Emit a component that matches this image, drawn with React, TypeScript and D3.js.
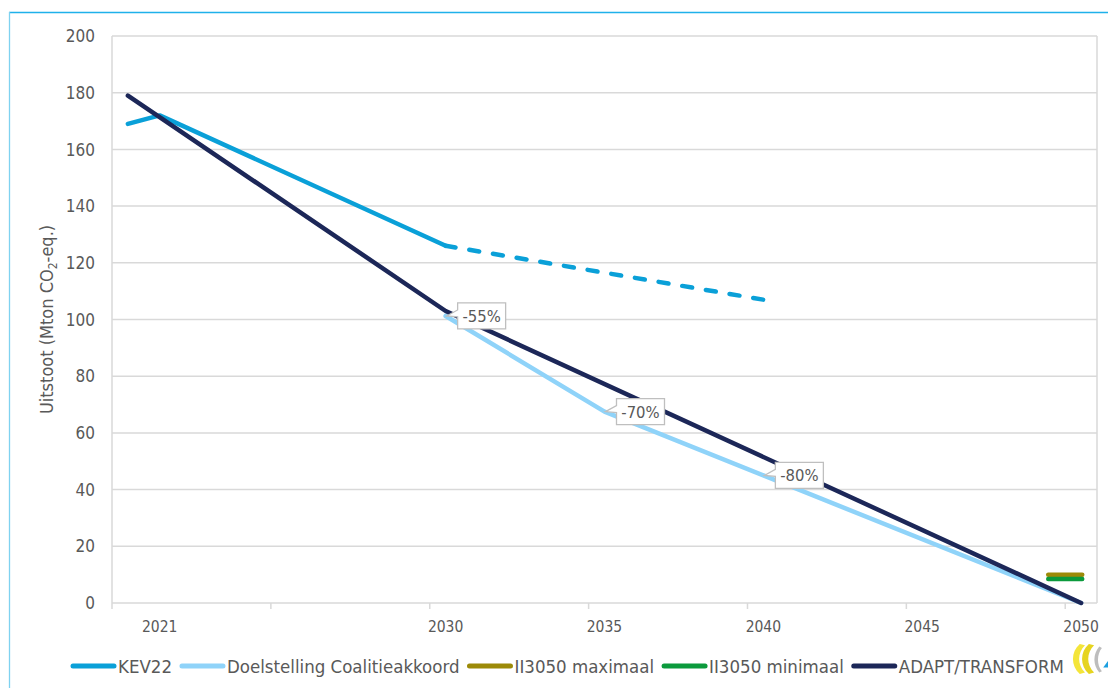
import { useEffect, useRef } from "react";
import * as d3 from "d3";

// categories on the x axis (one band per year)
const years = [
  2020, 2021, 2022, 2023, 2024, 2025, 2026, 2027, 2028, 2029, 2030, 2031, 2032,
  2033, 2034, 2035, 2036, 2037, 2038, 2039, 2040, 2041, 2042, 2043, 2044, 2045,
  2046, 2047, 2048, 2049, 2050,
];
const tickLabelYears = [2021, 2030, 2035, 2040, 2045, 2050];
const tickMarkYears = [2020, 2025, 2030, 2035, 2040, 2045, 2050];
const yTicks = [0, 20, 40, 60, 80, 100, 120, 140, 160, 180, 200];

// series (Mton CO2-eq.)
const kev22Years = [2020, 2021, 2030];
const kev22Values = [169, 172, 126];
const kev22ProjYears = [2030, 2040];
const kev22ProjValues = [126, 107];
const doelYears = [2030, 2035, 2040, 2050];
const doelValues = [101.25, 67.5, 45, 0];
const doelLabels = ["-55%", "-70%", "-80%", ""];
const adaptYears = [2020, 2030, 2050];
const adaptValues = [179, 103, 0];
const ii3050Year = 2050;
const ii3050MaxValue = 10;
const ii3050MinValue = 8.5;

const legendNames = [
  "KEV22",
  "Doelstelling Coalitieakkoord",
  "II3050 maximaal",
  "II3050 minimaal",
  "ADAPT/TRANSFORM",
];
const legendColors = ["#0aa0d8", "#8fd3f9", "#9c8a08", "#0b9a3c", "#1c2758"];

const W = 1108;
const H = 688;
const TEXT = "#595959";
const GRID = "#d9d9d9";
const FONT = "'DejaVu Sans Condensed', 'DejaVu Sans', sans-serif";

type Pt = { year: number; value: number };
const zip = (ys: number[], vs: number[]): Pt[] =>
  ys.map((y, i) => ({ year: y, value: vs[i] }));

export default function App() {
  const svgRef = useRef<SVGSVGElement | null>(null);

  useEffect(() => {
    if (!svgRef.current) return;
    const svg = d3.select(svgRef.current);
    svg.selectAll("*").remove();

    const plot = { left: 112, right: 1097, top: 36, bottom: 603 };

    const x = d3
      .scaleBand<number>()
      .domain(years)
      .range([plot.left, plot.right])
      .padding(0);
    const cx = (yr: number) => (x(yr) as number) + x.bandwidth() / 2;
    const y = d3.scaleLinear().domain([0, 200]).range([plot.bottom, plot.top]);

    // outer frame
    svg
      .append("line")
      .attr("x1", 9)
      .attr("x2", W)
      .attr("y1", 12.5)
      .attr("y2", 12.5)
      .attr("stroke", "#1fb1ea")
      .attr("stroke-width", 1.3);
    svg
      .append("line")
      .attr("x1", 9.5)
      .attr("x2", 9.5)
      .attr("y1", 12)
      .attr("y2", H)
      .attr("stroke", "#7fd2f0")
      .attr("stroke-width", 1.3);

    // gridlines
    svg
      .append("g")
      .selectAll("line")
      .data(yTicks)
      .join("line")
      .attr("x1", plot.left)
      .attr("x2", plot.right)
      .attr("y1", (d) => y(d))
      .attr("y2", (d) => y(d))
      .attr("stroke", GRID)
      .attr("stroke-width", 1.5);

    // left axis line and right border
    [plot.left, plot.right].forEach((xx) => {
      svg
        .append("line")
        .attr("x1", xx)
        .attr("x2", xx)
        .attr("y1", plot.top)
        .attr("y2", plot.bottom)
        .attr("stroke", GRID)
        .attr("stroke-width", 1.5);
    });

    // x tick marks
    svg
      .append("g")
      .selectAll("line")
      .data(tickMarkYears)
      .join("line")
      .attr("x1", (d) => x(d) as number)
      .attr("x2", (d) => x(d) as number)
      .attr("y1", plot.bottom)
      .attr("y2", plot.bottom + 6)
      .attr("stroke", GRID)
      .attr("stroke-width", 1.5);

    // y tick labels
    svg
      .append("g")
      .selectAll("text")
      .data(yTicks)
      .join("text")
      .attr("x", 95)
      .attr("y", (d) => y(d))
      .attr("dy", "0.36em")
      .attr("text-anchor", "end")
      .attr("font-family", FONT)
      .attr("font-size", 17)
      .attr("fill", TEXT)
      .text((d) => d);

    // x tick labels
    svg
      .append("g")
      .selectAll("text")
      .data(tickLabelYears)
      .join("text")
      .attr("x", (d) => cx(d))
      .attr("y", 632)
      .attr("text-anchor", "middle")
      .attr("font-family", FONT)
      .attr("font-size", 15.5)
      .attr("fill", TEXT)
      .text((d) => d);

    // y axis title
    const title = svg
      .append("text")
      .attr("transform", `translate(53,${(plot.top + plot.bottom) / 2}) rotate(-90)`)
      .attr("text-anchor", "middle")
      .attr("font-family", FONT)
      .attr("font-size", 18)
      .attr("fill", TEXT);
    title.append("tspan").text("Uitstoot (Mton CO");
    title.append("tspan").attr("font-size", 12).attr("dy", 4).text("2");
    title.append("tspan").attr("dy", -4).text("-eq.)");

    const line = d3
      .line<Pt>()
      .x((d) => cx(d.year))
      .y((d) => y(d.value));

    const drawLine = (data: Pt[], color: string, dash?: string) => {
      const p = svg
        .append("path")
        .datum(data)
        .attr("fill", "none")
        .attr("stroke", color)
        .attr("stroke-width", 4.5)
        .attr("stroke-linecap", "round")
        .attr("stroke-linejoin", "round")
        .attr("d", line);
      if (dash) p.attr("stroke-dasharray", dash);
    };

    drawLine(zip(kev22Years, kev22Values), legendColors[0]);
    drawLine(zip(kev22ProjYears, kev22ProjValues), legendColors[0], "10 14");
    drawLine(zip(doelYears, doelValues), legendColors[1]);

    // II3050 short dash markers
    [
      { v: ii3050MaxValue, c: legendColors[2] },
      { v: ii3050MinValue, c: legendColors[3] },
    ].forEach(({ v, c }) => {
      const xc = x(ii3050Year) as number;
      svg
        .append("line")
        .attr("x1", xc - 17)
        .attr("x2", xc + 17)
        .attr("y1", y(v))
        .attr("y2", y(v))
        .attr("stroke", c)
        .attr("stroke-width", 4.5)
        .attr("stroke-linecap", "round");
    });

    drawLine(zip(adaptYears, adaptValues), legendColors[4]);

    // callout labels on Doelstelling
    const callouts = svg.append("g");
    zip(doelYears, doelValues).forEach((d, i) => {
      if (!doelLabels[i]) return;
      const px = cx(d.year);
      const py = y(d.value);
      const l = px + 12;
      const r = l + 48;
      const t = py - 13;
      const b = py + 13;
      const path = `M${l},${t}H${r}V${b}H${l}V${py + 1}L${px + 1},${py}L${l},${py - 6}Z`;
      callouts
        .append("path")
        .attr("d", path)
        .attr("fill", "#ffffff")
        .attr("stroke", "#bfbfbf")
        .attr("stroke-width", 1.3);
      callouts
        .append("text")
        .attr("x", (l + r) / 2)
        .attr("y", py)
        .attr("dy", "0.36em")
        .attr("text-anchor", "middle")
        .attr("font-family", FONT)
        .attr("font-size", 16.5)
        .attr("fill", TEXT)
        .text(doelLabels[i]);
    });

    // legend
    const legend = svg.append("g");
    let lx = 71;
    const ly = 666;
    legendNames.forEach((name, i) => {
      legend
        .append("line")
        .attr("x1", lx + 2)
        .attr("x2", lx + 43)
        .attr("y1", ly)
        .attr("y2", ly)
        .attr("stroke", legendColors[i])
        .attr("stroke-width", 5)
        .attr("stroke-linecap", "round");
      const t = legend
        .append("text")
        .attr("x", lx + 47)
        .attr("y", ly)
        .attr("dy", "0.36em")
        .attr("font-family", FONT)
        .attr("font-size", 18.5)
        .attr("fill", TEXT)
        .text(name);
      const w = (t.node() as SVGTextElement).getComputedTextLength();
      lx += 47 + w + 8;
    });

    // logo (partially cut off at the right edge)
    const logo = svg.append("g").attr("transform", "translate(1072,644) scale(1.3)");
    logo
      .append("path")
      .attr("d", "M6,0 C-1,6 -1,17 6,23 L10,22 C4,16 4,7 10,1 Z")
      .attr("fill", "#f4e53a");
    logo
      .append("path")
      .attr("d", "M13,0 C6,6 6,17 13,23 L17,22 C11,16 11,7 17,1 Z")
      .attr("fill", "#e6d420");
    logo
      .append("path")
      .attr("d", "M21,2 C16,8 16,16 21,22 L23,21 C19,16 19,8 23,3 Z")
      .attr("fill", "#bdbdbd");
    logo
      .append("path")
      .attr("d", "M24,18 L30,10 L30,18 Z")
      .attr("fill", "#1c9fe0");
  }, []);

  return (
    <svg
      ref={svgRef}
      width={W}
      height={H}
      style={{ position: "absolute", left: 0, top: 0, background: "#ffffff" }}
    />
  );
}
